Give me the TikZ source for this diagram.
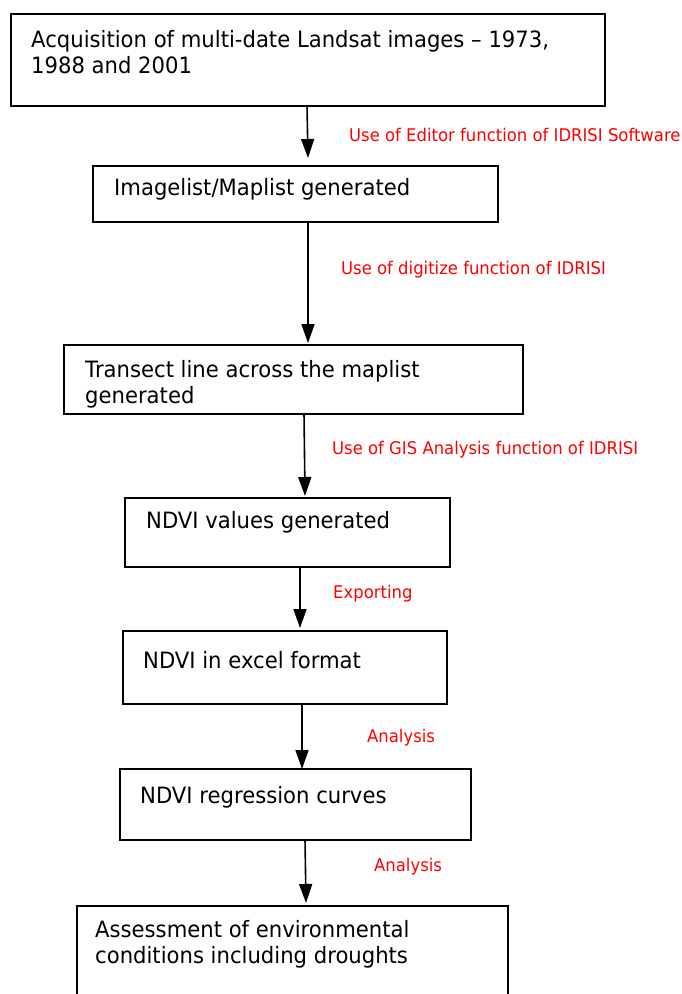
\documentclass[tikz,border=0pt]{standalone}
\usepackage{fontspec}
\setmainfont{DejaVu Sans}[FakeStretch=0.94]
\usetikzlibrary{arrows.meta}
\tikzset{
  box/.style={draw=black, line width=1.6pt, rectangle, anchor=north west, inner sep=0pt},
  boxtext/.style={anchor=west, inner sep=0pt, align=left, font=\fontsize{22.5}{26}\selectfont},
  flow/.style={draw=black, line width=1.6pt, -{Triangle[width=13pt,length=19pt]}},
  lbl/.style={anchor=west, inner sep=0pt, text=red, font=\fontsize{17.5}{15}\selectfont}
}
\begin{document}
\begin{tikzpicture}[x=1pt,y=-1pt]
\useasboundingbox (0,0) rectangle (682,994);
\clip (0,0) rectangle (682,994);
% boxes
\node[box, minimum width=594pt, minimum height=92pt] (b1) at (10,13) {};
\node[box, minimum width=405pt, minimum height=56pt] (b2) at (92,165) {};
\node[box, minimum width=459pt, minimum height=69pt] (b3) at (63,344) {};
\node[box, minimum width=325pt, minimum height=69pt] (b4) at (124,497) {};
\node[box, minimum width=324pt, minimum height=73pt] (b5) at (122,630) {};
\node[box, minimum width=351pt, minimum height=71pt] (b6) at (119,768) {};
\node[box, minimum width=431pt, minimum height=120pt] (b7) at (76,905) {};
% texts
\node[boxtext] (t1) at (31,52) {Acquisition of multi-date Landsat images -- 1973,\\1988 and 2001};
\node[boxtext] (t2) at (114,189) {Imagelist/Maplist generated};
\begin{scope}
\clip (b3.north west) rectangle ([yshift=-1pt]b3.south east);
\node[boxtext] (t3) at (85,384.5) {Transect line across the maplist\\generated};
\end{scope}
\node[boxtext] (t4) at (146,522) {NDVI values generated};
\node[boxtext] (t5) at (143,660) {NDVI in excel format};
\node[boxtext] (t6) at (140,797) {NDVI regression curves};
\node[boxtext] (t7) at (95,944) {Assessment of environmental\\conditions including droughts};
% arrows
\coordinate (a1s) at (307,105); \coordinate (a1e) at (308,158);
\coordinate (a2s) at (308,221); \coordinate (a2e) at (308,343);
\coordinate (a3s) at (304,413); \coordinate (a3e) at (305,496);
\coordinate (a4s) at (300,566); \coordinate (a4e) at (300,628);
\coordinate (a5s) at (302,703); \coordinate (a5e) at (302,769);
\coordinate (a6s) at (305,839); \coordinate (a6e) at (306,903);
\draw[flow] (a1s) -- (a1e);
\draw[flow] (a2s) -- (a2e);
\draw[flow] (a3s) -- (a3e);
\draw[flow] (a4s) -- (a4e);
\draw[flow] (a5s) -- (a5e);
\draw[flow] (a6s) -- (a6e);
% labels
\node[lbl] (l1) at (349,135) {Use of Editor function of IDRISI Software};
\node[lbl] (l2) at (341,270) {Use of digitize function of IDRISI};
\node[lbl] (l3) at (332,450) {Use of GIS Analysis function of IDRISI};
\node[lbl] (l4) at (333,594) {Exporting};
\node[lbl] (l5) at (367,738) {Analysis};
\node[lbl] (l6) at (374,867) {Analysis};
\end{tikzpicture}
\end{document}
